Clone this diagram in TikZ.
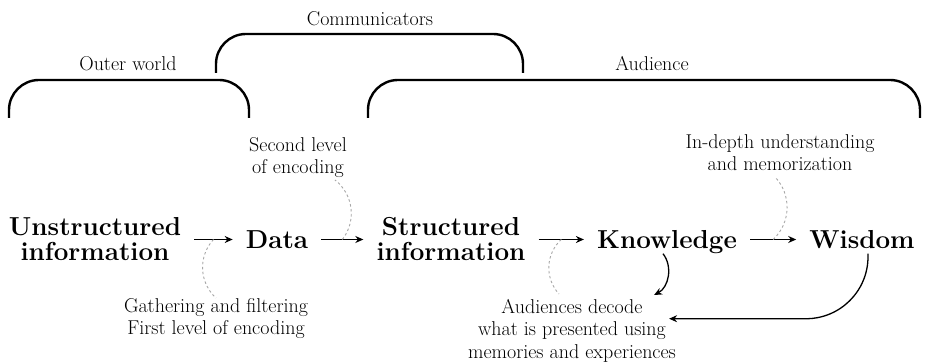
\documentclass[tikz,border=0pt]{standalone}
\usetikzlibrary{arrows.meta}

\tikzset{
    bracket/.style={line width=2.4pt, rounded corners=30pt},
    tag/.style={font=\fontsize{20}{22}\selectfont, anchor=base, inner sep=0pt},
    concept/.style={font=\fontsize{26}{25}\selectfont\bfseries, align=center, inner sep=0pt},
    word/.style={concept, text height=18pt, text depth=0pt},
    note/.style={font=\fontsize{20}{22.5}\selectfont, align=center, inner sep=0pt},
    flow/.style={-{Stealth[length=8pt,width=7pt]}, line width=1.3pt, shorten <=13pt, shorten >=13pt},
    back/.style={-{Stealth[length=8pt,width=7pt]}, line width=1.3pt},
    hint/.style={gray!70, line width=0.9pt, dash pattern=on 2.5pt off 2.5pt},
}

\begin{document}
\begin{tikzpicture}[x=1pt, y=1pt]
    \useasboundingbox (0,0) rectangle (926,363);

    % Brackets
    \draw[bracket] (9,245) |- (249,283) -- (249,245);
    \draw[bracket] (216,290) |- (523,329) -- (523,290);
    \draw[bracket] (368,245) |- (920,283) -- (920,245);
    \node[tag] (outer) at (128,292) {Outer world};
    \node[tag] (comm) at (370,337) {Communicators};
    \node[tag] (aud) at (652,292) {Audience};

    % Chain
    \node[concept] (un) at (95,123.5) {Unstructured\\information};
    \node[word] (data) at (277,123.5) {Data};
    \node[concept] (st) at (451,123.5) {Structured\\information};
    \node[word] (know) at (667,123.5) {Knowledge};
    \node[word] (wis) at (862,123.5) {Wisdom};

    \draw[flow] (un.east) -- coordinate (m1) (un.east -| data.west);
    \draw[flow] (data.east) -- coordinate (m2) (data.east -| st.west);
    \draw[flow] (st.east) -- coordinate (m3) (st.east -| know.west);
    \draw[flow] (know.east) -- coordinate (m4) (know.east -| wis.west);

    % Notes
    \node[note, anchor=north] (sec) at (298,226) {Second level\\of encoding};
    \node[note, anchor=north] (dep) at (780,229) {In-depth understanding\\and memorization};
    \node[note, anchor=north] (gath) at (216,65) {Gathering and filtering\\First level of encoding};
    \node[note, anchor=north] (dec) at (572,64) {Audiences decode\\what is presented using\\memories and experiences};

    \draw[hint] (m1) to[bend right=45] (gath.north);
    \draw[hint] (m2) to[bend right=45] ([xshift=-12pt,yshift=-2pt]sec.south east);
    \draw[hint] (m3) to[bend right=45] ([xshift=-13pt,yshift=5pt]dec.north);
    \draw[hint] (m4) to[bend right=45] ([xshift=-5pt,yshift=-6pt]dep.south);

    % Decoding
    \draw[back] ([xshift=-4pt,yshift=-5pt]know.south) to[bend left=50] ([xshift=-22pt,yshift=4pt]dec.north east);
    \draw[back, rounded corners=62pt] ([xshift=6pt,yshift=-5pt]wis.south) |- ([xshift=-7pt,yshift=12pt]dec.east);
\end{tikzpicture}
\end{document}
